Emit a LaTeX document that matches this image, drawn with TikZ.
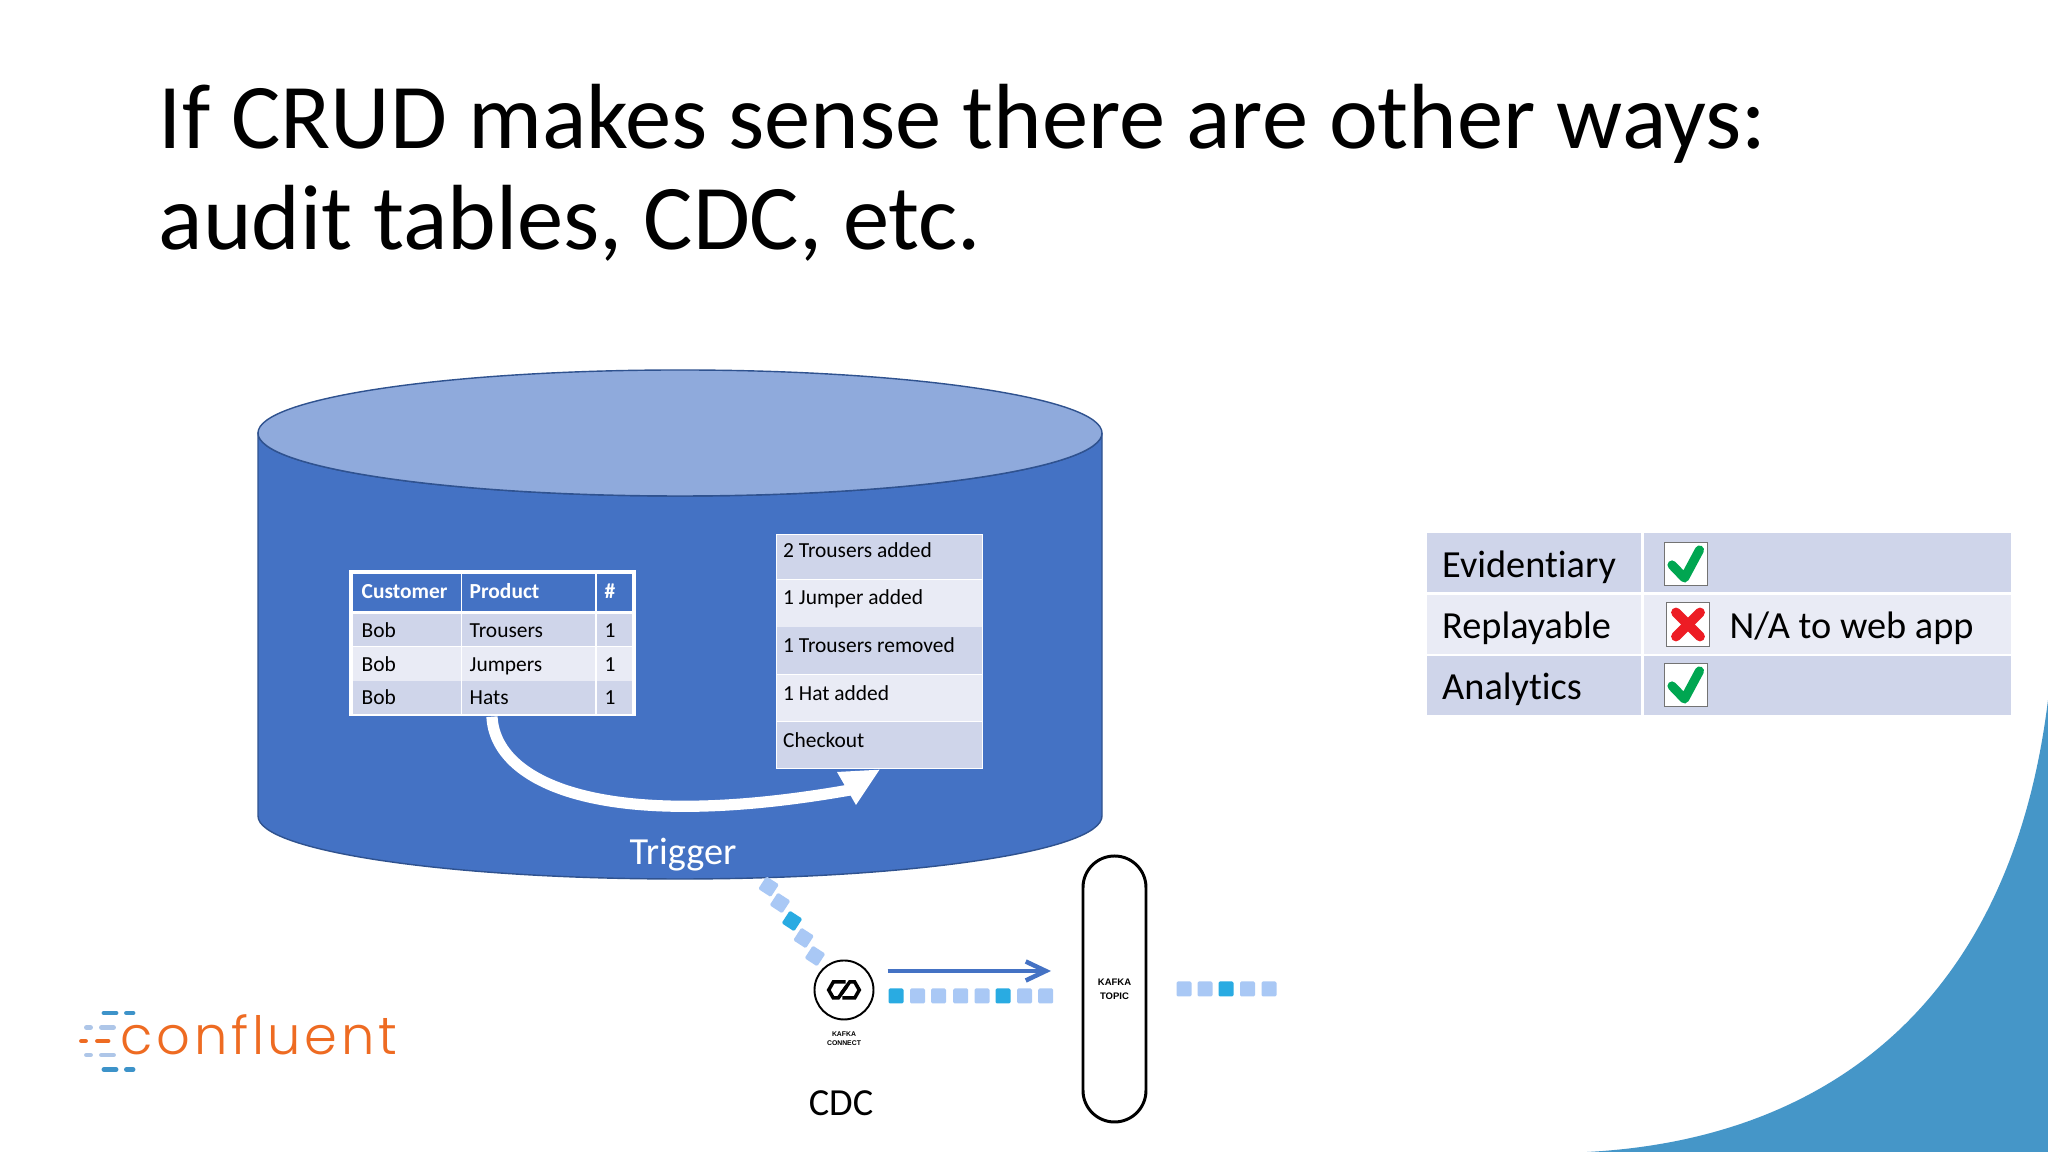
\documentclass[tikz,border=0pt]{standalone}
\usepackage{fontspec}
\setmainfont[Ligatures=CommonOff]{Carlito}
\newfontfamily\logofont[LetterSpace=7]{Poppins Light}
\newfontfamily\kafkafont{Liberation Sans}
\usetikzlibrary{arrows.meta}
\definecolor{cylblue}{HTML}{4472C4}
\definecolor{cyledge}{HTML}{2F528F}
\definecolor{cyltop}{HTML}{8FAADC}
\definecolor{bandon}{HTML}{CFD5EA}
\definecolor{bandoff}{HTML}{E9EBF5}
\definecolor{cornerblue}{HTML}{4596C8}
\definecolor{eventlight}{HTML}{A9C8F5}
\definecolor{eventdark}{HTML}{29ABE2}
\definecolor{logoorange}{HTML}{EE6B22}
\definecolor{logoblue}{HTML}{3D93C9}
\definecolor{logolight}{HTML}{AEC6E8}
\definecolor{tickgreen}{HTML}{00A651}
\definecolor{crossred}{HTML}{ED1C24}
\tikzset{
  titletext/.style={anchor=base west,inner sep=0pt,font=\fontsize{26.34}{28}\selectfont},
  bodytext/.style={anchor=base west,inner sep=0pt,font=\fontsize{10.9}{12}\selectfont},
  celltext/.style={anchor=base west,inner sep=0pt,font=\fontsize{6.1}{7}\selectfont},
  headtext/.style={celltext,text=white,font=\fontsize{6.1}{7}\selectfont\bfseries},
  eventsq/.style={rectangle,rounded corners=0.4pt,inner sep=0pt,minimum size=1.5mm},
  tickbox/.style={draw=black!55,fill=white,line width=0.35pt,inner sep=0pt,minimum size=4.35mm},
  dashline/.style={line width=1.4pt,line cap=round}
}
\begin{document}
\begin{tikzpicture}[scale = 1]
    \useasboundingbox (0,0) rectangle (20.48,11.52);
    \fill [white] (0,0) rectangle (20.48,11.52);
    \fill [cornerblue] (15.87,0) .. controls (18.2,0.12) and (20.1,1.42) .. (20.48,4.52) -- (20.48,0) -- cycle;
    \node [titletext] (titleone) at (1.58,10.03) {If CRUD makes sense there are other ways:};
    \node [titletext] (titletwo) at (1.58,9.02) {audit tables, CDC, etc.};
    \draw [fill=cylblue,draw=cyledge,line width=0.4pt] (2.58,7.19) -- (2.58,3.36) arc (180:360:4.22 and 0.63) -- (11.02,7.19) arc (0:-180:4.22 and 0.63) -- cycle;
    \draw [fill=cyltop,draw=cyledge,line width=0.4pt] (6.8,7.19) ellipse (4.22 and 0.63);
    \node [fill=white,inner sep=0pt,minimum width=2.87cm,minimum height=1.46cm] (custtable) at (4.92,5.09) {};
    \fill [cylblue] (3.525,5.41) rectangle (4.61,5.78);
    \fill [cylblue] (4.62,5.41) rectangle (5.95,5.78);
    \fill [cylblue] (5.97,5.41) rectangle (6.32,5.78);
    \foreach \ytop/\ybot/\band in {5.38/5.06/bandon,5.05/4.71/bandoff,4.71/4.38/bandon} {
        \fill [\band] (3.525,\ybot) rectangle (4.61,\ytop);
        \fill [\band] (4.62,\ybot) rectangle (5.95,\ytop);
        \fill [\band] (5.97,\ybot) rectangle (6.32,\ytop);
    }
    \node [headtext] (headcust) at (3.61,5.53) {Customer};
    \node [headtext] (headprod) at (4.69,5.53) {Product};
    \node [headtext] (headnum) at (6.04,5.53) {\#};
    \foreach \rowid/\ybase/\prod in {a/5.143/Trousers,b/4.803/Jumpers,c/4.47/Hats} {
        \node [celltext] (cust\rowid) at (3.61,\ybase) {Bob};
        \node [celltext] (prod\rowid) at (4.69,\ybase) {\prod};
        \node [celltext] (num\rowid) at (6.04,\ybase) {1};
    }
    \node [fill=white,inner sep=0pt,minimum width=2.07cm,minimum height=2.35cm] (eventlist) at (8.795,5.005) {};
    \foreach \ytop/\ybot/\band in {6.17/5.73/bandon,5.72/5.25/bandoff,5.25/4.78/bandon,4.77/4.31/bandoff,4.30/3.84/bandon} {
        \fill [\band] (7.77,\ybot) rectangle (9.82,\ytop);
    }
    \node [celltext] (eventa) at (7.825,5.94) {2 Trousers added};
    \node [celltext] (eventb) at (7.825,5.47) {1 Jumper added};
    \node [celltext] (eventc) at (7.825,4.99) {1 Trousers removed};
    \node [celltext] (eventd) at (7.825,4.51) {1 Hat added};
    \node [celltext] (evente) at (7.825,4.045) {Checkout};
    \draw [white,line width=3.2pt] (custtable.south) .. controls (4.95,3.7) and (6.0,3.18) .. (8.5,3.62);
    \fill [white] (eventlist.south) -- (8.37,3.8) -- (8.56,3.47) -- cycle;
    \node [bodytext,text=white,anchor=base] (trigger) at (6.83,2.875) {Trigger};
    \foreach \xpos/\ypos/\shade [count=\n] in {7.686/2.653/eventlight,7.8/2.49/eventlight,7.92/2.31/eventdark,8.036/2.14/eventlight,8.15/1.96/eventlight} {
        \node [eventsq,rotate=-33,fill=\shade] (leave\n) at (\xpos,\ypos) {};
    }
    \node [circle,draw=black,line width=0.55pt,fill=white,inner sep=0pt,minimum size=5.9mm] (connector) at (8.44,1.62) {};
    \draw [line width=1pt,line join=miter] (8.457,1.7) -- (8.333,1.7) -- (8.287,1.62) -- (8.333,1.54) -- (8.383,1.54) -- (8.467,1.657);
    \draw [line width=1pt,line join=miter] (8.423,1.54) -- (8.547,1.54) -- (8.593,1.62) -- (8.547,1.7) -- (8.497,1.7) -- (8.413,1.583);
    \node [inner sep=0pt,align=center,font=\kafkafont\bfseries\fontsize{1.95}{2.6}\selectfont] (connectlabel) at (8.44,1.135) {KAFKA\\CONNECT};
    \coordinate (pushfrom) at (8.875,1.81);
    \coordinate (pushto) at (10.51,1.81);
    \draw [cylblue,line width=1.28pt,-{Straight Barb[length=2mm,width=1.9mm]}] (pushfrom) -- (pushto);
    \foreach \xpos/\shade [count=\n] in {8.96/eventdark,9.175/eventlight,9.386/eventlight,9.607/eventlight,9.82/eventlight,10.03/eventdark,10.246/eventlight,10.457/eventlight} {
        \node [eventsq,fill=\shade] (pushed\n) at (\xpos,1.56) {};
    }
    \node [draw=black,line width=0.85pt,rounded corners=3.15mm,inner sep=0pt,minimum width=6.3mm,minimum height=26.6mm,align=center,font=\kafkafont\bfseries\fontsize{2.7}{4}\selectfont] (topic) at (11.145,1.63) {KAFKA\\TOPIC};
    \foreach \xpos/\shade [count=\n] in {11.84/eventlight,12.05/eventlight,12.26/eventdark,12.475/eventlight,12.69/eventlight} {
        \node [eventsq,fill=\shade] (output\n) at (\xpos,1.63) {};
    }
    \node [bodytext,anchor=base] (cdc) at (8.41,0.365) {CDC};
    \foreach \ytop/\ybot/\band in {6.19/5.60/bandon,5.57/4.98/bandoff,4.96/4.37/bandon} {
        \fill [\band] (14.27,\ybot) rectangle (16.41,\ytop);
        \fill [\band] (16.44,\ybot) rectangle (20.11,\ytop);
    }
    \node [bodytext] (evidentiary) at (14.415,5.745) {Evidentiary};
    \node [bodytext] (replayable) at (14.415,5.13) {Replayable};
    \node [bodytext] (analytics) at (14.415,4.52) {Analytics};
    \node [bodytext] (notapplicable) at (17.29,5.13) {N/A to web app};
    \node [tickbox] (tickone) at (16.86,5.88) {};
    \node [tickbox] (crossbox) at (16.88,5.275) {};
    \node [tickbox] (ticktwo) at (16.86,4.67) {};
    \foreach \boxname in {tickone,ticktwo} {
        \draw [tickgreen,line width=2.6pt,line cap=round,line join=round] ([shift={(-0.14,-0.01)}]\boxname.center) -- ([shift={(-0.015,-0.14)}]\boxname.center) -- ([shift={(0.135,0.14)}]\boxname.center);
    }
    \draw [crossred,line width=2.8pt,line cap=round] ([shift={(-0.12,0.12)}]crossbox.center) -- ([shift={(0.12,-0.12)}]crossbox.center);
    \draw [crossred,line width=2.8pt,line cap=round] ([shift={(-0.12,-0.12)}]crossbox.center) -- ([shift={(0.12,0.12)}]crossbox.center);
    \foreach \ya/\xa/\xb/\xc/\xd/\shade in {
        1.39/1.04/1.16/1.265/1.33/logoblue,
        1.245/0.865/0.905/1.015/1.135/logolight,
        1.11/0.815/0.855/0.975/1.08/logoorange,
        0.97/0.865/0.905/1.015/1.135/logolight,
        0.825/1.04/1.16/1.265/1.33/logoblue} {
        \draw [dashline,\shade] (\xa,\ya) -- (\xb,\ya);
        \draw [dashline,\shade] (\xc,\ya) -- (\xd,\ya);
    }
    \node [inner sep=0pt,anchor=base west,text=logoorange,font=\logofont\fontsize{15}{16}\selectfont] (logo) at (1.2,0.97) {confluent};
\end{tikzpicture}
\end{document}
